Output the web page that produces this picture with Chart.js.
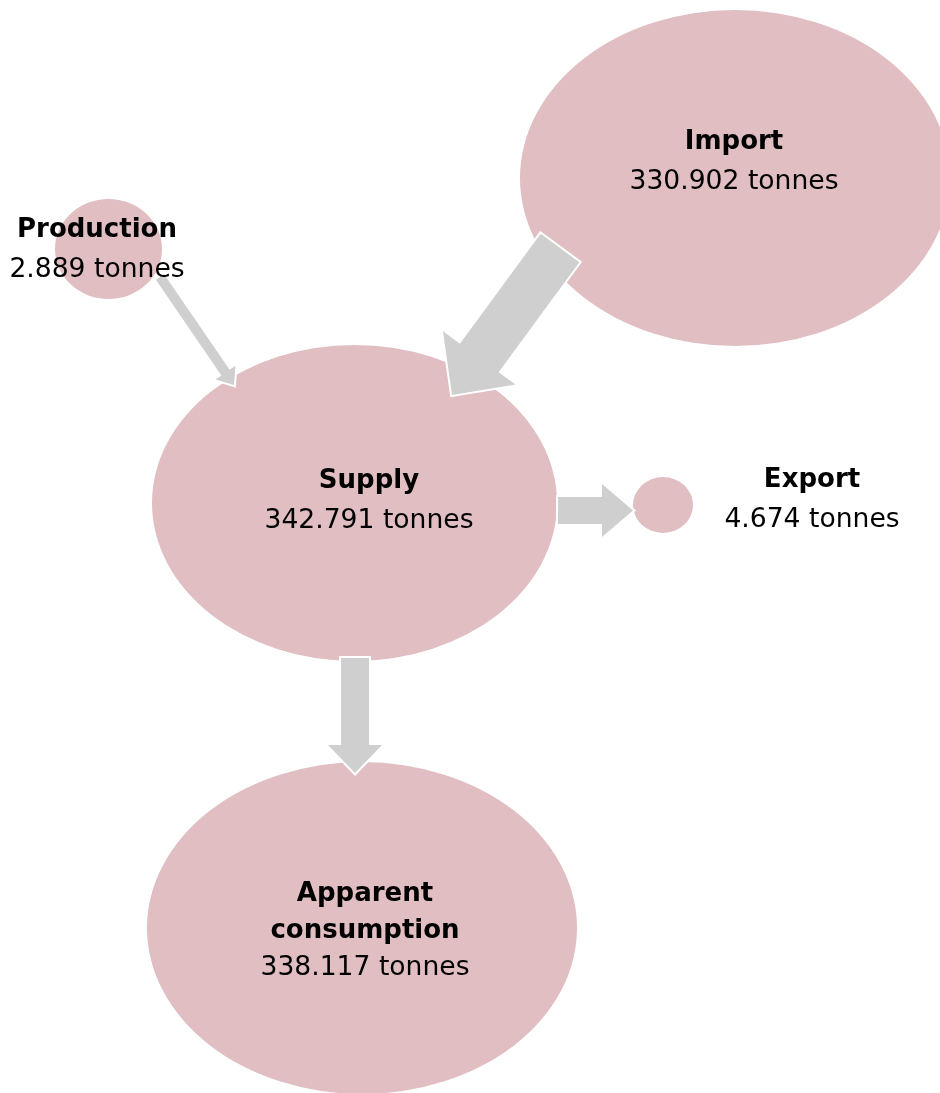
<!DOCTYPE html>
<html>
<head>
<meta charset="utf-8">
<script src="https://cdn.jsdelivr.net/npm/chart.js@4/dist/chart.umd.min.js"></script>
<style>
html,body{margin:0;padding:0;background:#fff;}
#wrap{position:relative;width:940px;height:1093px;}
</style>
</head>
<body>
<div id="wrap"><canvas id="c"></canvas></div>
<script>
// ---- data ----
const nodeNames = ['Production', 'Import', 'Supply', 'Export', 'Apparent consumption'];
const nodeValues = [2889, 330902, 342791, 4674, 338117];
const unitLabel = 'tonnes';
const flowFrom = ['Production', 'Import', 'Supply', 'Supply'];
const flowTo = ['Supply', 'Supply', 'Export', 'Apparent consumption'];

// ---- layout (data units of the hidden 940 x 1093 scales) ----
const nodeCenterX = [108.5, 735, 354.5, 663, 362];
const nodeCenterY = [249, 178, 503, 505, 928];
const nodeRadiusX = [53.5, 215, 202.5, 30, 215];
const nodeRadiusY = [50, 168, 158, 28, 166];
const labelX = [97, 734, 369, 812, 365];
const labelTitleLines = [['Production'], ['Import'], ['Supply'], ['Export'], ['Apparent', 'consumption']];
const labelFirstBaseline = [237, 149, 488, 487, 901];
const labelLineGap = [40, 40, 40, 40, 37];
// arrows: tail point, tip point, shaft width, head width, head length
const arrowTailX = [160, 560, 558, 355];
const arrowTailY = [277, 248, 510.5, 658];
const arrowTipX = [234, 452, 633, 355];
const arrowTipY = [385, 395, 510.5, 773];
const arrowShaft = [10, 48, 27, 28];
const arrowHead = [24, 90, 53, 54];
const arrowHeadLen = [15, 46, 31, 28];

const ellipseColor = '#e0bec1';
const arrowColor = '#d0cfd0';
const fontFamily = '"DejaVu Sans", sans-serif';

function fmt(v) {
  return String(v).replace(/\B(?=(\d{3})+(?!\d))/g, '.');
}

const diagramPlugin = {
  id: 'flowDiagram',
  afterDatasetsDraw(chart) {
    const ctx = chart.ctx;
    const sx = chart.scales.x, sy = chart.scales.y;
    const meta = chart.getDatasetMeta(0);
    ctx.save();
    // ellipses
    meta.data.forEach((pt, i) => {
      const rx = Math.abs(sx.getPixelForValue(nodeCenterX[i] + nodeRadiusX[i]) - pt.x);
      const ry = Math.abs(sy.getPixelForValue(nodeCenterY[i] + nodeRadiusY[i]) - pt.y);
      ctx.beginPath();
      ctx.ellipse(pt.x, pt.y, rx, ry, 0, 0, Math.PI * 2);
      ctx.fillStyle = ellipseColor;
      ctx.fill();
    });
    // arrows
    for (let k = 0; k < flowFrom.length; k++) {
      const tx = sx.getPixelForValue(arrowTailX[k]), ty = sy.getPixelForValue(arrowTailY[k]);
      const hx = sx.getPixelForValue(arrowTipX[k]), hy = sy.getPixelForValue(arrowTipY[k]);
      const dx = hx - tx, dy = hy - ty, L = Math.hypot(dx, dy);
      const ux = dx / L, uy = dy / L, px = -uy, py = ux;
      const sw = arrowShaft[k] / 2, hw = arrowHead[k] / 2, hl = arrowHeadLen[k];
      const bx = hx - ux * hl, by = hy - uy * hl;
      ctx.beginPath();
      ctx.moveTo(tx + px * sw, ty + py * sw);
      ctx.lineTo(bx + px * sw, by + py * sw);
      ctx.lineTo(bx + px * hw, by + py * hw);
      ctx.lineTo(hx, hy);
      ctx.lineTo(bx - px * hw, by - py * hw);
      ctx.lineTo(bx - px * sw, by - py * sw);
      ctx.lineTo(tx - px * sw, ty - py * sw);
      ctx.closePath();
      ctx.lineJoin = 'miter';
      ctx.lineWidth = 4;
      ctx.strokeStyle = '#ffffff';
      ctx.stroke();
      ctx.fillStyle = arrowColor;
      ctx.fill();
    }
    // labels
    ctx.fillStyle = '#000000';
    ctx.textAlign = 'center';
    ctx.textBaseline = 'alphabetic';
    for (let i = 0; i < nodeNames.length; i++) {
      const x = sx.getPixelForValue(labelX[i]);
      let y = sy.getPixelForValue(labelFirstBaseline[i]);
      ctx.font = 'bold 26px ' + fontFamily;
      labelTitleLines[i].forEach(line => {
        ctx.fillText(line, x, y);
        y += labelLineGap[i];
      });
      ctx.font = '26.6px ' + fontFamily;
      ctx.fillText(fmt(nodeValues[i]) + ' ' + unitLabel, x, y);
    }
    ctx.restore();
  }
};

new Chart(document.getElementById('c'), {
  type: 'scatter',
  data: {
    datasets: [{
      label: 'Nodes',
      data: nodeNames.map((n, i) => ({ x: nodeCenterX[i], y: nodeCenterY[i] })),
      pointRadius: 0,
      pointHoverRadius: 0
    }]
  },
  options: {
    responsive: true,
    maintainAspectRatio: false,
    animation: false,
    layout: { padding: 0 },
    plugins: { legend: { display: false }, tooltip: { enabled: false } },
    events: [],
    scales: {
      x: { type: 'linear', min: 0, max: 940, display: false },
      y: { type: 'linear', min: 0, max: 1093, reverse: true, display: false }
    }
  },
  plugins: [diagramPlugin]
});
</script>
</body>
</html>
